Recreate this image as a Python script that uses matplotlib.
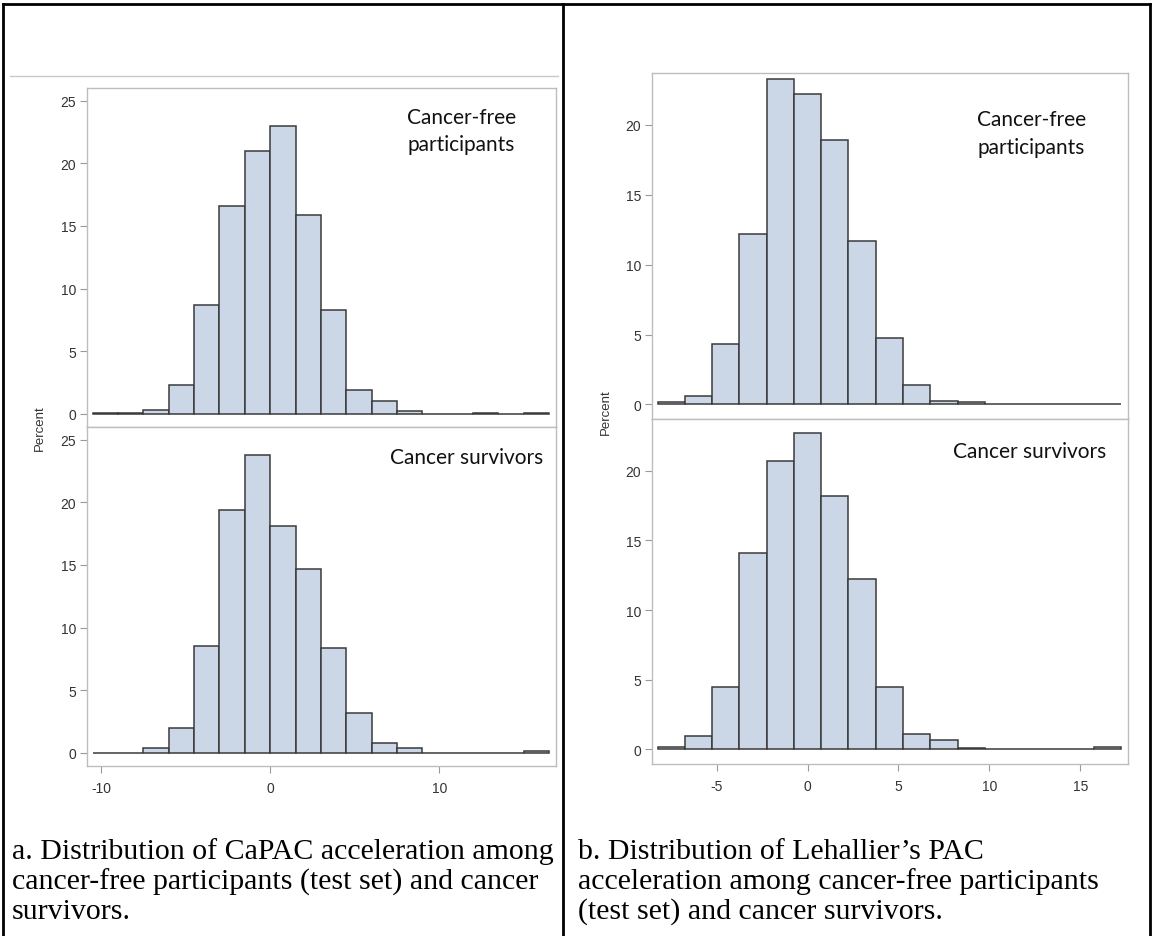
import numpy as np
import matplotlib.pyplot as plt
from matplotlib.lines import Line2D

# bin midpoints and percentages
capac_mid = np.arange(-9.75, 16.5, 1.5)
capac_free = [0.05, 0.05, 0.3, 2.3, 8.7, 16.6, 21.0, 23.0, 15.9, 8.3, 1.9, 1.0, 0.2, 0.0, 0.0, 0.05, 0.0, 0.05]
capac_surv = [0.0, 0.0, 0.35, 2.0, 8.5, 19.4, 23.8, 18.1, 14.7, 8.4, 3.2, 0.75, 0.35, 0.0, 0.0, 0.0, 0.0, 0.15]

leh_mid = np.arange(-7.5, 17.0, 1.5)
leh_free = [0.15, 0.64, 4.3, 12.2, 23.3, 22.2, 18.9, 11.7, 4.75, 1.4, 0.25, 0.15, 0.0, 0.0, 0.05, 0.0, 0.05]
leh_surv = [0.15, 1.0, 4.5, 14.1, 20.7, 22.7, 18.2, 12.2, 4.5, 1.1, 0.65, 0.12, 0.0, 0.0, 0.0, 0.0, 0.15]

capac_yticks = [0, 5, 10, 15, 20, 25]
capac_xticks = [-10, 0, 10]
leh_yticks = [0, 5, 10, 15, 20]
leh_xticks = [-5, 0, 5, 10, 15]

caption_a = ["a. Distribution of CaPAC acceleration among",
             "cancer-free participants (test set) and cancer",
             "survivors."]
caption_b = ["b. Distribution of Lehallier\u2019s PAC",
             "acceleration among cancer-free participants",
             "(test set) and cancer survivors."]

W, H = 1152, 937
fig = plt.figure(figsize=(W / 100, H / 100), dpi=100)
fig.patch.set_facecolor("white")


def box(x0, y0, x1, y1):
    # pixel box (top-left origin) -> figure fraction rect
    return [x0 / W, 1 - y1 / H, (x1 - x0) / W, (y1 - y0) / H]


fill = "#cbd6e6"
edge = "#3a3a3a"
frame = "#bdbdbd"
tickfont = dict(family="Liberation Sans", size=10, color="#333333")


def panel(rect, mids, vals, xlim, ylim, yticks, xticks, label, label_xy):
    ax = fig.add_axes(rect)
    ax.bar(mids, vals, width=1.5, color=fill, edgecolor=edge, linewidth=1.1)
    ax.set_xlim(*xlim)
    ax.set_ylim(*ylim)
    ax.set_yticks(yticks)
    ax.set_yticklabels([str(t) for t in yticks], fontdict=tickfont)
    if xticks:
        ax.set_xticks(xticks)
        ax.set_xticklabels([str(t) for t in xticks], fontdict=tickfont)
        ax.tick_params(axis="x", length=5, width=0.8, color="#999999", pad=6)
    else:
        ax.set_xticks([])
    ax.tick_params(axis="y", length=5, width=0.8, color="#999999", pad=3)
    for s in ax.spines.values():
        s.set_color(frame)
        s.set_linewidth(1.0)
    ax.text(label_xy[0], label_xy[1], label, transform=ax.transAxes,
            family="Lato", fontsize=15, color="#111111", va="top", ha="left",
            linespacing=1.45)
    return ax


xl_a = (-10.83, 16.9)
yl_a = (-1.05, 26.0)
xl_b = (-8.56, 17.63)
yl_b = (-1.04, 23.7)

panel(box(87, 89, 556, 428), capac_mid, capac_free, xl_a, yl_a, capac_yticks, None,
      "Cancer-free\nparticipants", (0.683, 0.945))
panel(box(87, 428, 556, 767), capac_mid, capac_surv, xl_a, yl_a, capac_yticks, capac_xticks,
      "Cancer survivors", (0.645, 0.94))
panel(box(652, 74, 1128, 420), leh_mid, leh_free, xl_b, yl_b, leh_yticks, None,
      "Cancer-free\nparticipants", (0.683, 0.895))
panel(box(652, 420, 1128, 765), leh_mid, leh_surv, xl_b, yl_b, leh_yticks, leh_xticks,
      "Cancer survivors", (0.632, 0.935))

fig.text(40 / W, 1 - 428 / H, "Percent", rotation=90, va="center", ha="center",
         family="Liberation Sans", fontsize=9.5, color="#333333")
fig.text(606 / W, 1 - 412 / H, "Percent", rotation=90, va="center", ha="center",
         family="Liberation Sans", fontsize=9.5, color="#333333")

# table borders
def pline(xs, ys, color="black", lw=2.0):
    fig.add_artist(Line2D([x / W for x in xs], [1 - y / H for y in ys],
                          color=color, linewidth=lw, transform=fig.transFigure))

pline([3, 1150], [5, 5])
pline([3, 3], [5, 937])
pline([563, 563], [5, 937])
pline([1150, 1150], [5, 937])
pline([10, 558], [77, 77], color="#c8c8c8", lw=1.0)

for i, line in enumerate(caption_a):
    fig.text(12 / W, 1 - (852 + 30 * i) / H, line, family="Liberation Serif",
             fontsize=21.5, va="center", ha="left", color="black")
for i, line in enumerate(caption_b):
    fig.text(578 / W, 1 - (852 + 30 * i) / H, line, family="Liberation Serif",
             fontsize=21.5, va="center", ha="left", color="black")

fig.savefig("out.png", dpi=100, facecolor="white")
